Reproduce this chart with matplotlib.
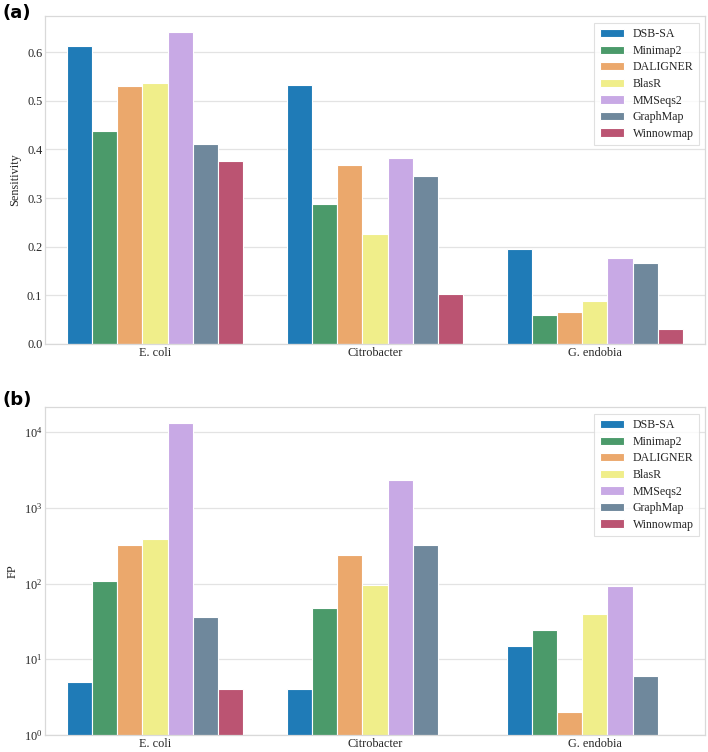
import matplotlib
matplotlib.use("Agg")
import matplotlib.pyplot as plt
import numpy as np
import seaborn as sns

# ---------------------------------------------------------------------------
# Data
# ---------------------------------------------------------------------------
DATASETS = ["E. coli", "Citrobacter", "G. endobia"]
TOOLS = ["DSB-SA", "Minimap2", "DALIGNER", "BlasR", "MMSeqs2", "GraphMap", "Winnowmap"]

# sensitivity per tool, one value per dataset
SENS_DSB = [0.612, 0.533, 0.195]
SENS_MINIMAP2 = [0.437, 0.288, 0.060]
SENS_DALIGNER = [0.530, 0.368, 0.066]
SENS_BLASR = [0.537, 0.227, 0.088]
SENS_MMSEQS2 = [0.641, 0.383, 0.177]
SENS_GRAPHMAP = [0.411, 0.346, 0.166]
SENS_WINNOWMAP = [0.377, 0.103, 0.031]

# false positives per tool (nan = zero, not drawn on log axis)
FP_DSB = [5, 4, 15]
FP_MINIMAP2 = [107, 48, 24]
FP_DALIGNER = [319, 238, 2]
FP_BLASR = [387, 95, 40]
FP_MMSEQS2 = [13150, 2350, 92]
FP_GRAPHMAP = [36.5, 319, 6]
FP_WINNOWMAP = [4, np.nan, np.nan]

SENS = [SENS_DSB, SENS_MINIMAP2, SENS_DALIGNER, SENS_BLASR,
        SENS_MMSEQS2, SENS_GRAPHMAP, SENS_WINNOWMAP]
FP = [FP_DSB, FP_MINIMAP2, FP_DALIGNER, FP_BLASR,
      FP_MMSEQS2, FP_GRAPHMAP, FP_WINNOWMAP]

COLORS = ["#1f7bb7", "#4b9a6a", "#eba86c", "#f0ee8a",
          "#c8a9e5", "#6f889c", "#bb5472"]

# ---------------------------------------------------------------------------
# Style
# ---------------------------------------------------------------------------
sns.set_theme(style="whitegrid")
plt.rcParams.update({
    "font.family": ["Liberation Serif", "DejaVu Serif"],
    "mathtext.fontset": "stix",
    "axes.edgecolor": "#d9d9d9",
    "grid.color": "#e3e3e3",
    "text.color": "#262626",
    "xtick.color": "#262626",
    "ytick.color": "#262626",
})
FS = 8.8


def draw_bars(ax, values):
    x = np.arange(len(DATASETS))
    n = len(TOOLS)
    width = 0.8 / n
    for i, (tool, vals) in enumerate(zip(TOOLS, values)):
        offs = -0.4 + width * (i + 0.5)
        ax.bar(x + offs, vals, width=width, color=COLORS[i], label=tool,
               edgecolor="white", linewidth=0.8, zorder=2)
    ax.set_xticks(x)
    ax.set_xticklabels(DATASETS, fontsize=FS)
    ax.set_xlim(-0.5, len(DATASETS) - 0.5)
    ax.grid(axis="x", visible=False)
    ax.grid(axis="y", linewidth=0.9, zorder=0)
    ax.set_axisbelow(True)
    ax.tick_params(axis="both", labelsize=FS, pad=2, length=0)
    for sp in ax.spines.values():
        sp.set_color("#d9d9d9")
        sp.set_linewidth(0.9)
    leg = ax.legend(loc="upper right", fontsize=8.6, frameon=True,
                    fancybox=False, borderpad=0.45, labelspacing=0.38,
                    handlelength=2.0, handletextpad=0.75,
                    borderaxespad=0.0, bbox_to_anchor=(0.991, 0.979))
    leg.get_frame().set_edgecolor("#d9d9d9")
    leg.get_frame().set_linewidth(0.8)


fig = plt.figure(figsize=(7.08, 7.52), dpi=100)
ax_a = fig.add_axes([0.0636, 0.5426, 0.932, 0.436])
ax_b = fig.add_axes([0.0636, 0.0226, 0.932, 0.436])

draw_bars(ax_a, SENS)
ax_a.set_ylim(0, 0.674)
ax_a.set_yticks([0.0, 0.1, 0.2, 0.3, 0.4, 0.5, 0.6])
ax_a.set_yticklabels(["0.0", "0.1", "0.2", "0.3", "0.4", "0.5", "0.6"])
ax_a.set_ylabel("Sensitivity", fontsize=FS, labelpad=4)

draw_bars(ax_b, FP)
ax_b.set_yscale("log")
ax_b.set_ylim(1, 10 ** 4.33)
ax_b.set_yticks([1, 10, 100, 1000, 10000])
ax_b.minorticks_off()
ax_b.set_ylabel("FP", fontsize=FS, labelpad=4)

fig.text(0.004, 0.983, "(a)", fontsize=13, fontweight="bold",
         family="DejaVu Sans", ha="left", va="center", color="black")
fig.text(0.004, 0.468, "(b)", fontsize=13, fontweight="bold",
         family="DejaVu Sans", ha="left", va="center", color="black")

fig.savefig("out.png", dpi=100, facecolor="white")
